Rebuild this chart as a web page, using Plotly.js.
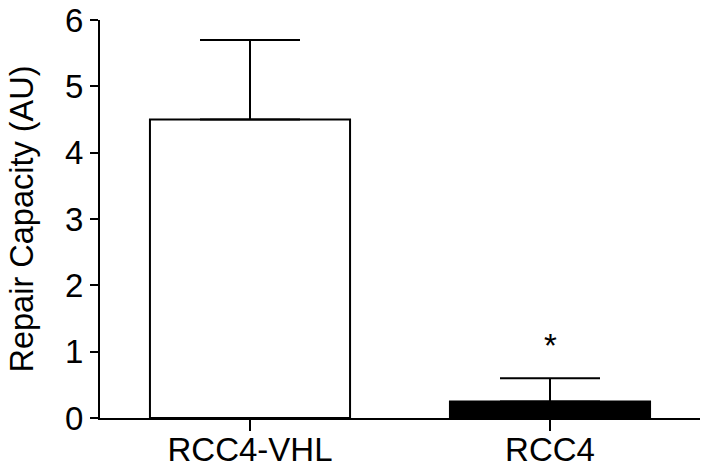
<!DOCTYPE html>
<html>
<head>
<meta charset="utf-8">
<script src="https://cdn.plot.ly/plotly-3.0.1.min.js"></script>
<style>
    html, body { margin: 0; padding: 0; background: #fff; }
    #chart { width: 708px; height: 467px; }
</style>
</head>
<body>
<div id="chart"></div>
<script>
const categories = ['RCC4-VHL', 'RCC4'];
const repairCapacity = [4.5, 0.25];
const errorUp = [1.2, 0.35];
const significance = ['', '*'];

const font = 'Liberation Sans, Arial, sans-serif';

const barTrace = {
    type: 'bar',
    x: categories,
    y: repairCapacity,
    width: 0.667,
    marker: {
        color: ['#ffffff', '#000000'],
        line: {color: '#000', width: 2}
    },
    error_y: {
        type: 'data',
        symmetric: false,
        array: errorUp,
        arrayminus: [0, 0],
        color: '#000',
        thickness: 2,
        width: 50
    },
    hoverinfo: 'skip'
};

// star marks above the significant bar
const annotations = categories
    .map((cat, i) => ({cat, i}))
    .filter(d => significance[d.i])
    .map(d => ({
        x: d.cat,
        y: repairCapacity[d.i] + errorUp[d.i],
        xref: 'x',
        yref: 'y',
        text: significance[d.i],
        showarrow: false,
        yanchor: 'bottom',
        yshift: 12,
        font: {family: font, size: 33, color: '#000'}
    }));

const layout = {
    width: 708,
    height: 467,
    margin: {l: 100, r: 8, t: 20, b: 49},
    paper_bgcolor: '#fff',
    plot_bgcolor: '#fff',
    showlegend: false,
    font: {family: font, size: 33, color: '#000'},
    xaxis: {
        type: 'category',
        range: [-0.5, 1.5],
        showline: true,
        linecolor: '#000',
        linewidth: 2,
        ticks: 'outside',
        ticklen: 11,
        tickwidth: 2,
        tickcolor: '#000',
        ticklabelstandoff: -10,
        showgrid: false,
        zeroline: false,
        fixedrange: true,
        tickfont: {family: font, size: 33, color: '#000'}
    },
    yaxis: {
        range: [0, 6],
        tickvals: [0, 1, 2, 3, 4, 5, 6],
        showline: true,
        linecolor: '#000',
        linewidth: 2,
        ticks: 'outside',
        ticklen: 8,
        tickwidth: 2,
        tickcolor: '#000',
        showgrid: false,
        zeroline: false,
        fixedrange: true,
        tickfont: {family: font, size: 33, color: '#000'},
        title: {
            text: 'Repair Capacity (AU)',
            font: {family: font, size: 32.5, color: '#000'},
            standoff: 22
        }
    },
    annotations
};

Plotly.newPlot('chart', [barTrace], layout, {displayModeBar: false, staticPlot: true});
</script>
</body>
</html>
